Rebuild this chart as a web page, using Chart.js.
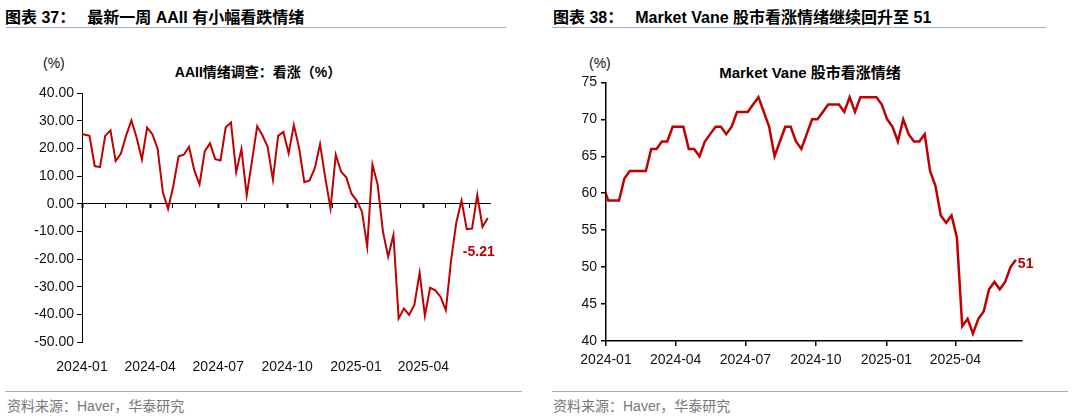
<!DOCTYPE html>
<html lang="zh-CN">
<head>
<meta charset="UTF-8">
<title>AAII / Market Vane 情绪</title>
<script src="https://cdn.jsdelivr.net/npm/chart.js"></script>
<style>
  body { margin: 0; width: 1080px; height: 419px; background: #fff; position: relative; overflow: hidden;
         font-family: "Liberation Sans", "Noto Sans CJK SC", sans-serif; color: #000; }
  .hd { position: absolute; top: 7px; font-size: 16px; font-weight: bold; white-space: nowrap; line-height: 22px; }
  .hd .no { display: inline-block; margin-right: 12px; }
  .rule { position: absolute; height: 0; border-top: 1.5px solid #9fb0c6; }
  .unit { position: absolute; top: 55px; font-size: 14px; color: #111; }
  .ttl { position: absolute; top: 61px; font-weight: bold; transform: translateX(-50%); white-space: nowrap; }
  .src { position: absolute; top: 395px; font-size: 14px; color: #777; white-space: nowrap; }
  canvas { position: absolute; }
</style>
</head>
<body>

<div class="hd" style="left:5px;"><span class="no">图表 37：</span>最新一周 AAII 有小幅看跌情绪</div>
<div class="rule" style="left:6px; width:500px; top:27px;"></div>
<div class="hd" style="left:553px;"><span class="no">图表 38：</span>Market Vane 股市看涨情绪继续回升至 51</div>
<div class="rule" style="left:552px; width:494px; top:27px;"></div>

<div class="unit" style="left:43px;">(%)</div>
<div class="ttl" style="left:258px; font-size:14px;">AAII情绪调查：看涨（%）</div>
<div class="unit" style="left:589px;">(%)</div>
<div class="ttl" style="left:810px; font-size:15px;">Market Vane 股市看涨情绪</div>

<canvas id="aaii" width="540" height="300" style="left:0; top:80px;"></canvas>
<canvas id="vane" width="540" height="310" style="left:540px; top:70px;"></canvas>

<div class="rule" style="left:5px; width:517px; top:391px;"></div>
<div class="rule" style="left:552px; width:516px; top:391px;"></div>
<div class="src" style="left:7px;">资料来源：Haver，华泰研究</div>
<div class="src" style="left:553px;">资料来源：Haver，华泰研究</div>

<script>
    // weekly readings, first one (2023-12-28) sits just left of the axis
    const aaiiFirstWeek = '2023-12-28';
    const aaiiBull = [25.3, 25.0, 24.5, 13.6, 13.2, 24.5, 26.5, 15.4, 18.1, 24.7, 30.1, 23.8, 16.0, 27.5, 25.1, 19.9,
        4.1, -1.9, 6.5, 17.1, 17.7, 20.6, 12.0, 7.0, 19.0, 21.8, 16.1, 15.6, 27.6, 29.3, 11.4, 19.8, 3.0, 15.3, 28.0,
        24.7, 20.5, 8.7, 24.5, 25.9, 18.2, 28.4, 20.1, 7.8, 8.4, 12.8, 21.5, 9.2, -1.7, 17.7, 11.6, 9.5, 3.6, 1.1,
        -2.9, -15.5, 14.1, 6.8, -10.1, -19.2, -11.3, -41.5, -37.9, -40.2, -36.5, -25.0, -40.5, -30.4, -31.3, -33.7,
        -38.5, -20.5, -6.8, 1.1, -9.2, -9.0, 3.2, -8.4, -5.21];
    const aaiiYTicks = [-50, -40, -30, -20, -10, 0, 10, 20, 30, 40];

    const vaneFirstWeek = '2023-12-28';
    const vaneBull = [61, 59, 59, 59, 62, 63, 63, 63, 63, 66, 66, 67, 67, 69, 69, 69, 66, 66, 65, 67, 68, 69, 69, 68,
        69, 71, 71, 71, 72, 73, 71, 69, 65, 67, 69, 69, 67, 66, 68, 70, 70, 71, 72, 72, 72, 71, 73, 71, 73, 73, 73, 73,
        72, 70, 69, 67, 70, 68, 67, 67, 68, 63, 61, 57, 56, 57, 54, 42, 43, 41, 43, 44, 47, 48, 47, 48, 50, 51];
    const vaneYTicks = [40, 45, 50, 55, 60, 65, 70, 75];

    const quarterLabels = ['2024-01', '2024-04', '2024-07', '2024-10', '2025-01', '2025-04'];
    const monthLabels = ['2024-01', '2024-02', '2024-03', '2024-04', '2024-05', '2024-06', '2024-07', '2024-08',
        '2024-09', '2024-10', '2024-11', '2024-12', '2025-01', '2025-02', '2025-03', '2025-04', '2025-05', '2025-06'];

    const RED = '#c00000';
    Chart.defaults.font.family = '"Liberation Sans", Arial, sans-serif';
    Chart.defaults.color = '#111';

    // days since 2024-01-01
    function dayOf(s) {
        const p = (s.length === 7 ? s + '-01' : s).split('-').map(Number);
        return (Date.UTC(p[0], p[1] - 1, p[2]) - Date.UTC(2024, 0, 1)) / 864e5;
    }
    function weeklyPoints(first, values) {
        const d0 = dayOf(first);
        return values.map((v, i) => ({ x: d0 + 7 * i, y: v }));
    }
    const quarterDays = quarterLabels.map(dayOf);

    const endLabel = {
        id: 'endLabel',
        afterDatasetsDraw(chart, args, opts) {
            const pts = chart.getDatasetMeta(0).data;
            const p = pts[pts.length - 1];
            const ctx = chart.ctx;
            ctx.save();
            ctx.font = 'bold 14px "Liberation Sans", Arial, sans-serif';
            ctx.fillStyle = RED;
            ctx.textAlign = opts.align;
            ctx.textBaseline = 'middle';
            ctx.fillText(opts.text, p.x + opts.dx, p.y + opts.dy);
            ctx.restore();
        }
    };

    const tickFont = { size: 14 };

    new Chart(document.getElementById('aaii'), {
        type: 'line',
        data: {
            datasets: [{
                data: weeklyPoints(aaiiFirstWeek, aaiiBull),
                borderColor: RED,
                borderWidth: 2,
                pointRadius: 0,
                tension: 0
            }]
        },
        options: {
            responsive: false,
            animation: false,
            layout: { padding: { top: 13, right: 50, left: 0, bottom: 0 } },
            plugins: {
                legend: { display: false },
                tooltip: { enabled: false },
                endLabel: { text: aaiiBull[aaiiBull.length - 1].toFixed(2), dx: -9, dy: 34, align: 'center' }
            },
            scales: {
                x: {
                    type: 'linear', position: 'bottom', min: 0, max: 545,
                    afterBuildTicks: s => { s.ticks = quarterDays.map(v => ({ value: v })); },
                    afterFit: s => { s.height = 38; },
                    border: { display: false },
                    grid: { display: false },
                    ticks: {
                        autoSkip: false, maxRotation: 0, padding: 9, font: tickFont,
                        callback: v => quarterLabels[quarterDays.indexOf(v)] || ''
                    }
                },
                zero: {
                    type: 'linear', axis: 'x', position: { y: 0 }, min: 0, max: 545,
                    afterBuildTicks: s => { s.ticks = monthLabels.map(m => ({ value: dayOf(m) })); },
                    border: { display: true, color: '#000', width: 1 },
                    grid: {
                        drawOnChartArea: false, tickLength: 4, color: '#000',
                        tickWidth: c => (c.tick && quarterDays.includes(c.tick.value)) ? 2 : 1
                    },
                    ticks: { display: false }
                },
                y: {
                    min: -50, max: 40,
                    afterBuildTicks: s => { s.ticks = aaiiYTicks.map(v => ({ value: v })); },
                    afterFit: s => { s.width = 82; },
                    border: { display: true, color: '#000', width: 1 },
                    grid: { drawOnChartArea: false, tickLength: 5, color: '#000' },
                    ticks: { padding: 3, font: tickFont, callback: v => v.toFixed(2) }
                }
            }
        },
        plugins: [endLabel]
    });

    new Chart(document.getElementById('vane'), {
        type: 'line',
        data: {
            datasets: [{
                data: weeklyPoints(vaneFirstWeek, vaneBull),
                borderColor: RED,
                borderWidth: 2.5,
                pointRadius: 0,
                tension: 0
            }]
        },
        options: {
            responsive: false,
            animation: false,
            layout: { padding: { top: 12, right: 58, left: 0, bottom: 0 } },
            plugins: {
                legend: { display: false },
                tooltip: { enabled: false },
                endLabel: { text: String(vaneBull[vaneBull.length - 1]), dx: 2, dy: 4, align: 'left' }
            },
            scales: {
                x: {
                    type: 'linear', position: 'bottom', min: 0, max: 543,
                    afterBuildTicks: s => { s.ticks = quarterDays.map(v => ({ value: v })); },
                    afterFit: s => { s.height = 39; },
                    border: { display: true, color: '#000', width: 1.5 },
                    grid: { drawOnChartArea: false, tickLength: 5, color: '#000', lineWidth: 1.5 },
                    ticks: {
                        autoSkip: false, maxRotation: 0, padding: 6, font: tickFont,
                        callback: v => quarterLabels[quarterDays.indexOf(v)] || ''
                    }
                },
                y: {
                    min: 40, max: 75,
                    afterBuildTicks: s => { s.ticks = vaneYTicks.map(v => ({ value: v })); },
                    afterFit: s => { s.width = 66; },
                    border: { display: true, color: '#000', width: 1.5 },
                    grid: { drawOnChartArea: false, tickLength: 5, color: '#000', lineWidth: 1.5 },
                    ticks: { padding: 4, font: tickFont }
                }
            }
        },
        plugins: [endLabel]
    });
</script>

</body>
</html>
